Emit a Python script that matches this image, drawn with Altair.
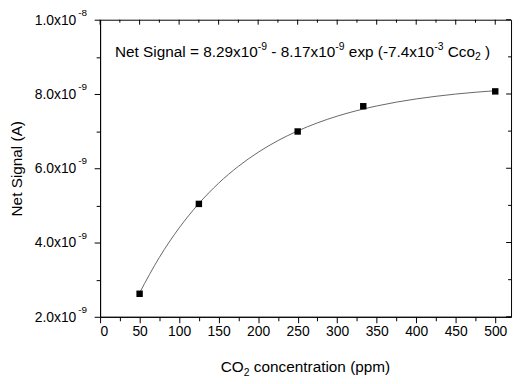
import altair as alt
import pandas as pd

# measured points
conc = [50, 125, 250, 333, 500]
signal = [2.62e-9, 5.04e-9, 6.99e-9, 7.67e-9, 8.07e-9]

# fitted curve
curve_x = [50, 75, 100, 125, 150, 175, 200, 225, 250, 275, 300, 325, 350, 375, 400, 425, 450, 475, 500]
curve_y = [2.647e-9, 3.600e-9, 4.392e-9, 5.050e-9, 5.598e-9, 6.052e-9, 6.430e-9, 6.744e-9, 7.005e-9,
           7.222e-9, 7.403e-9, 7.553e-9, 7.677e-9, 7.781e-9, 7.867e-9, 7.938e-9, 7.998e-9, 8.047e-9, 8.088e-9]

x_major = [0, 50, 100, 150, 200, 250, 300, 350, 400, 450, 500]
x_minor = [25, 75, 125, 175, 225, 275, 325, 375, 425, 475]
y_major = [2e-9, 4e-9, 6e-9, 8e-9, 1e-8]
y_label_base = ["2.0x10", "4.0x10", "6.0x10", "8.0x10", "1.0x10"]
y_label_exp = ["-9", "-9", "-9", "-9", "-8"]
y_minor = [3e-9, 5e-9, 7e-9, 9e-9]

# (text, kind) kind: n = normal, sup = superscript, sub = subscript
equation_parts = [("Net Signal = 8.29x10", "n"), ("-9", "sup"), (" - 8.17x10", "n"), ("-9", "sup"),
                  (" exp (-7.4x10", "n"), ("-3", "sup"), (" Cco", "n"), ("2", "sub"), (" )", "n")]
x_title_parts = [("CO", "n"), ("2", "sub"), (" concentration (ppm)", "n")]
y_title = "Net Signal (A)"

FONT = "Liberation Sans"
W = 415
H = 300

# Arial / Liberation Sans advance widths (1/1000 em) for layout of rich text pieces
ARIAL = {' ': 278, '(': 333, ')': 333, '-': 333, '.': 278, '=': 584, 'A': 667, 'C': 722, 'N': 722,
         'O': 778, 'S': 667, 'a': 556, 'c': 500, 'e': 556, 'g': 556, 'i': 222, 'l': 222, 'm': 833,
         'n': 556, 'o': 556, 'p': 556, 'r': 333, 't': 278, 'x': 500}


def text_width(s, size):
    return sum(ARIAL.get(ch, 556) for ch in s) * size / 1000.0


def rich_text(parts, x_start, baseline_y, size, small):
    layers = []
    x = x_start
    for txt, kind in parts:
        fs = size if kind == "n" else small
        dy = 0 if kind == "n" else (-0.45 * size if kind == "sup" else 0.22 * size)
        lead = len(txt) - len(txt.lstrip(" "))
        core = txt.strip(" ")
        trail = len(txt) - len(txt.rstrip(" "))
        x += text_width(" " * lead, fs)
        if core:
            layers.append(
                alt.Chart(pd.DataFrame({"t": [core]})).mark_text(
                    font=FONT, fontSize=fs, color="black", align="left", baseline="alphabetic",
                    dy=dy,
                ).encode(text="t:N", x=alt.value(x), y=alt.value(baseline_y))
            )
        x += text_width(core, fs) + text_width(" " * trail, fs)
    return layers


def rich_width(parts, size, small):
    return sum(text_width(t, size if k == "n" else small) for t, k in parts)


pts = pd.DataFrame({"x": conc, "y": signal})
crv = pd.DataFrame({"x": curve_x, "y": curve_y})

xs = alt.Scale(domain=[0, 520], nice=False, zero=False)
ys = alt.Scale(domain=[2e-9, 1e-8], nice=False, zero=False)

ax_bottom = alt.Axis(orient="bottom", values=x_major, tickSize=6, labelPadding=2, labelFontSize=14,
                     labelFont=FONT, labelColor="black", title=None, grid=False,
                     domainColor="black", tickColor="black", domainWidth=1, tickWidth=1)
ax_left = alt.Axis(orient="left", values=y_major, tickSize=6, labels=False,
                   title=y_title, titleFont=FONT, titleFontSize=15.5, titleFontWeight="normal",
                   titleColor="black", titlePadding=70, grid=False,
                   domainColor="black", tickColor="black", domainWidth=1, tickWidth=1)
ax_bottom_minor = alt.Axis(orient="bottom", values=x_minor, tickSize=4, labels=False, domain=False,
                           title=None, grid=False, tickColor="black", tickWidth=1)
ax_left_minor = alt.Axis(orient="left", values=y_minor, tickSize=4, labels=False, domain=False,
                         title=None, grid=False, tickColor="black", tickWidth=1)

curve = alt.Chart(crv).mark_line(color="#555555", strokeWidth=0.9, interpolate="monotone").encode(
    x=alt.X("x:Q", scale=xs, axis=ax_bottom),
    y=alt.Y("y:Q", scale=ys, axis=ax_left),
)

points = alt.Chart(pts).mark_square(color="black", size=42, opacity=1).encode(
    x=alt.X("x:Q", scale=xs, axis=ax_bottom_minor),
    y=alt.Y("y:Q", scale=ys, axis=ax_left_minor),
)

# inward ticks on the top and right frame
top_major = alt.Chart(pd.DataFrame({"v": x_major})).mark_rule(color="black", strokeWidth=1).encode(
    x=alt.X("v:Q", scale=xs, axis=None), y=alt.value(0), y2=alt.value(5))
top_minor = alt.Chart(pd.DataFrame({"v": x_minor})).mark_rule(color="black", strokeWidth=1).encode(
    x=alt.X("v:Q", scale=xs, axis=None), y=alt.value(0), y2=alt.value(3))
right_major = alt.Chart(pd.DataFrame({"v": y_major})).mark_rule(color="black", strokeWidth=1).encode(
    y=alt.Y("v:Q", scale=ys, axis=None), x=alt.value(W), x2=alt.value(W - 5))
right_minor = alt.Chart(pd.DataFrame({"v": y_minor})).mark_rule(color="black", strokeWidth=1).encode(
    y=alt.Y("v:Q", scale=ys, axis=None), x=alt.value(W), x2=alt.value(W - 3))

# y tick labels with real superscripts
ylab_df = pd.DataFrame({"v": y_major, "b": y_label_base, "e": y_label_exp})
ylab_base = alt.Chart(ylab_df).mark_text(
    font=FONT, fontSize=14, color="black", align="right", baseline="alphabetic", dy=5
).encode(y=alt.Y("v:Q", scale=ys, axis=None), x=alt.value(-24), text="b:N")
ylab_exp = alt.Chart(ylab_df).mark_text(
    font=FONT, fontSize=10, color="black", align="left", baseline="alphabetic", dy=-4
).encode(y=alt.Y("v:Q", scale=ys, axis=None), x=alt.value(-22), text="e:N")

eq_layers = rich_text(equation_parts, 15, 37.5, 15.5, 10.5)
xt_w = rich_width(x_title_parts, 15.5, 10.5)
xt_layers = rich_text(x_title_parts, W / 2 - xt_w / 2, 356, 15.5, 10.5)

chart = alt.layer(curve, points, top_major, top_minor, right_major, right_minor,
                  ylab_base, ylab_exp, *eq_layers, *xt_layers).resolve_axis(
    x="independent", y="independent"
).properties(
    width=W, height=H,
    autosize=alt.AutoSizeParams(type="none"),
    padding={"left": 93, "top": 10, "right": 5, "bottom": 62},
    background="white",
).configure_view(stroke="black", strokeWidth=1)

chart.save("out.html", embed_options={"renderer": "svg", "actions": False})
